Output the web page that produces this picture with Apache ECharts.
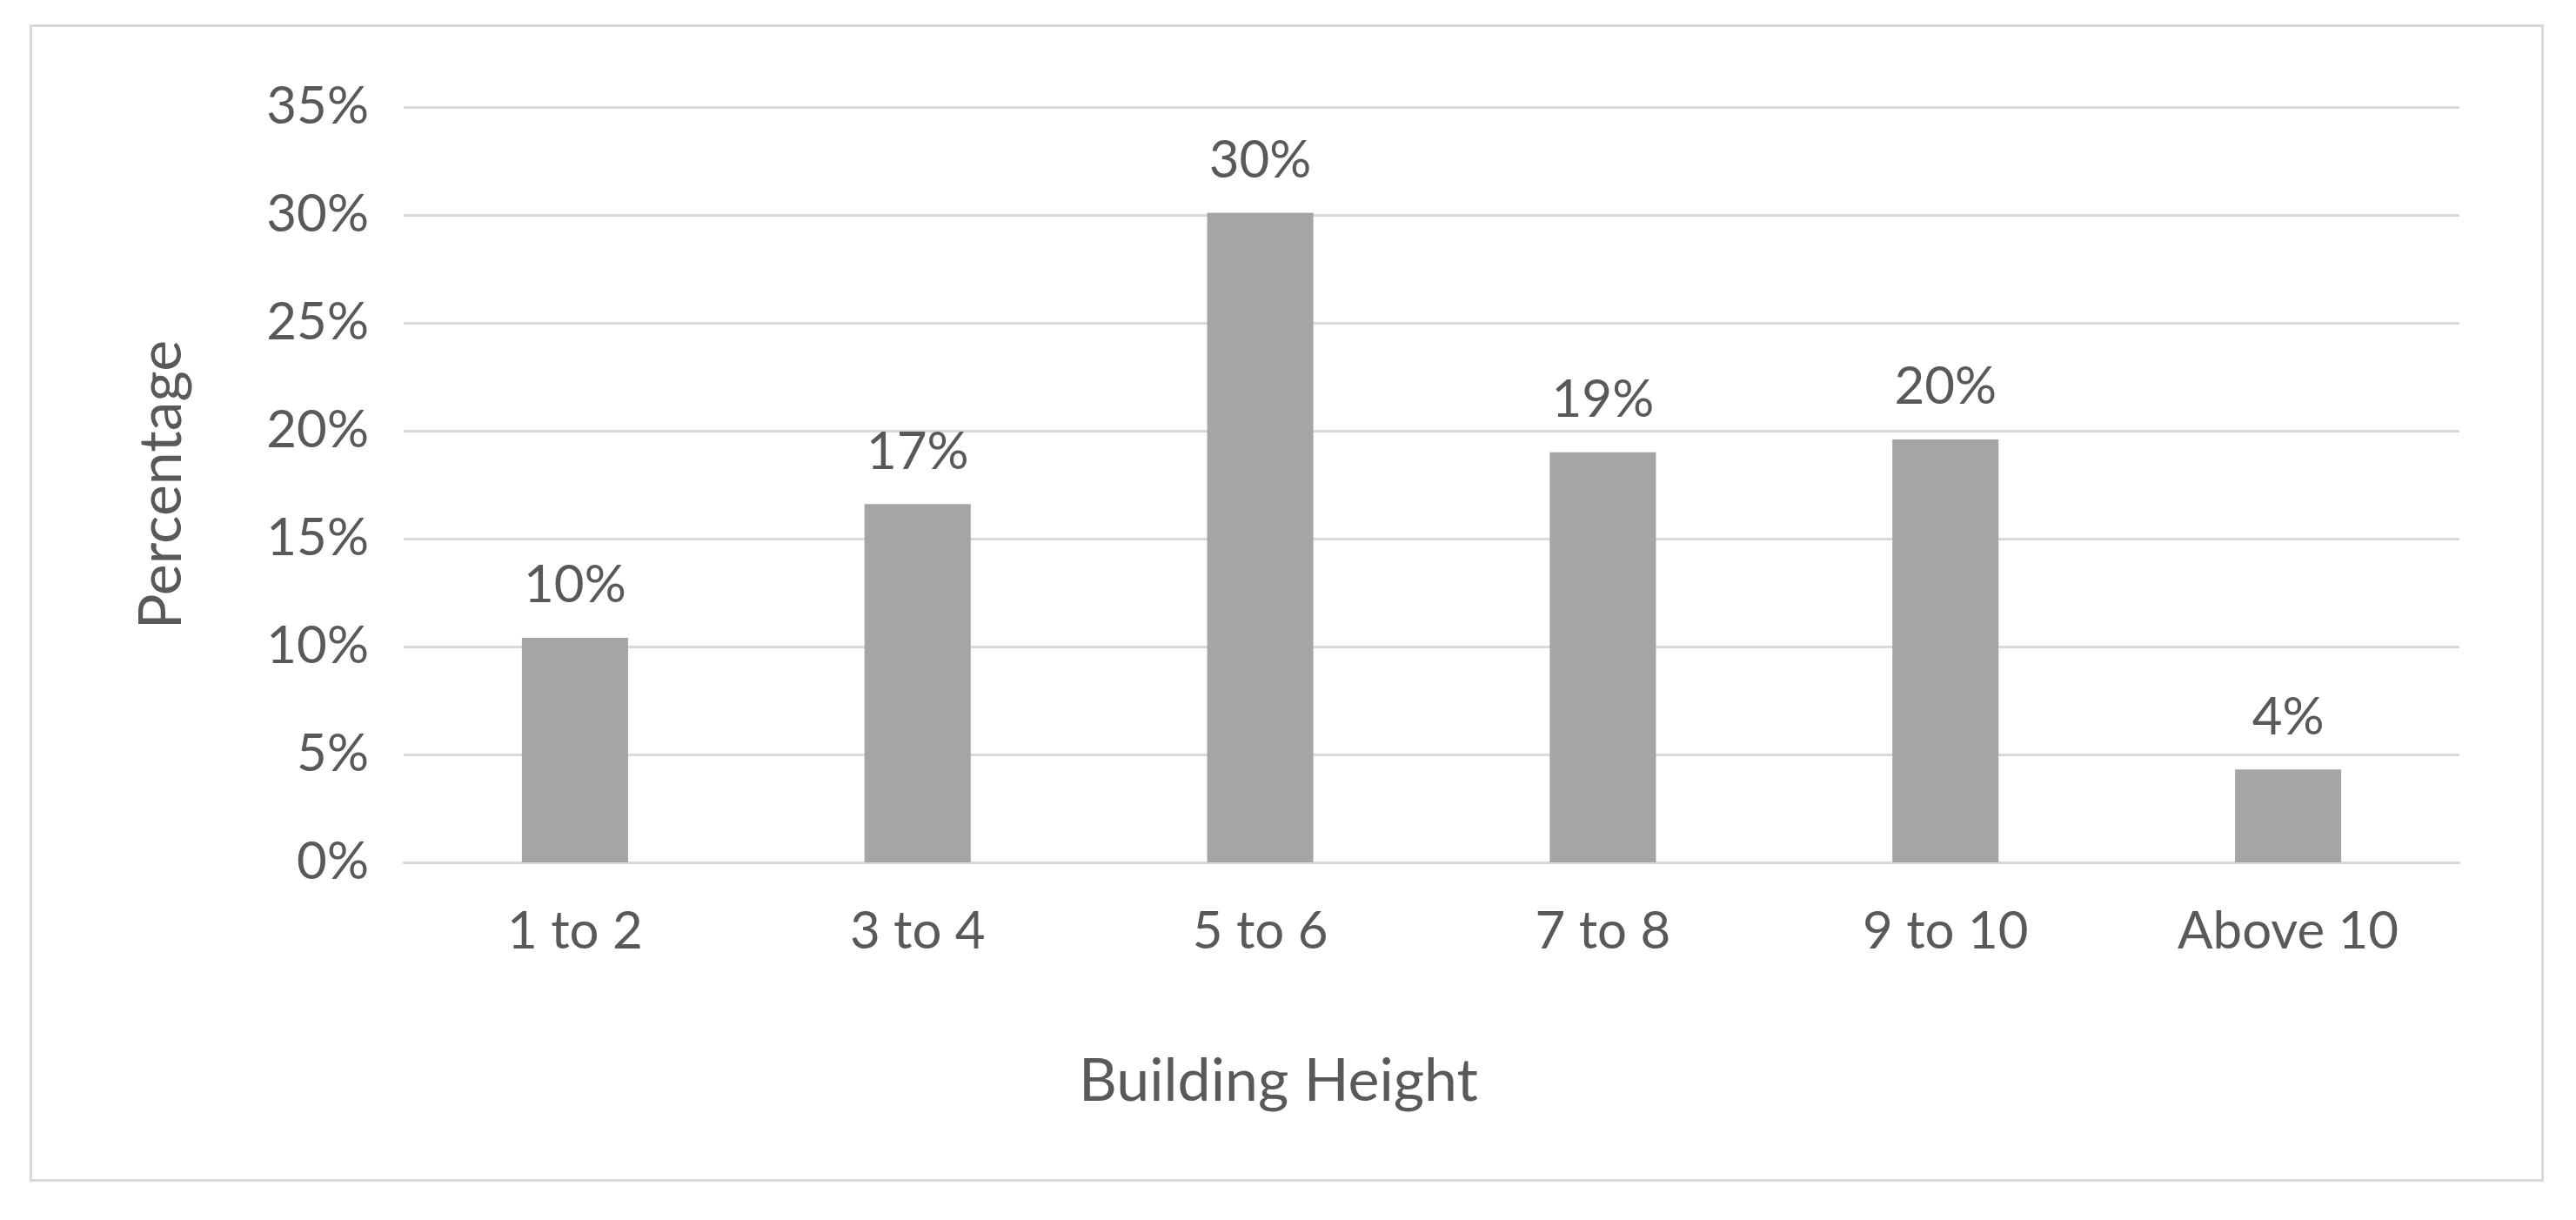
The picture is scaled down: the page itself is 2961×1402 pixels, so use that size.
<!DOCTYPE html>
<html>
<head>
<meta charset="utf-8">
<script src="https://cdn.jsdelivr.net/npm/echarts@6/dist/echarts.min.js"></script>
<style>
  html, body { margin: 0; padding: 0; background: #fff; }
  #frame { position: absolute; left: 34px; top: 28px; width: 2890px; height: 1330px; border: 3px solid #d9d9d9; box-sizing: border-box; }
  #chart { position: absolute; left: 0; top: 0; width: 2961px; height: 1402px; }
</style>
</head>
<body>
<div id="frame"></div>
<div id="chart"></div>
<script>
// data
const categories = ['1 to 2', '3 to 4', '5 to 6', '7 to 8', '9 to 10', 'Above 10'];
const values = [10.4, 16.6, 30.1, 19.0, 19.6, 4.3];
const labels = ['10%', '17%', '30%', '19%', '20%', '4%'];

const font = 'Lato, "Open Sans", sans-serif';
const grey = '#595959';

const chart = echarts.init(document.getElementById('chart'));
chart.setOption({
  animation: false,
  grid: { left: 464, right: 134, top: 123, bottom: 411 },
  xAxis: {
    type: 'category',
    data: categories,
    name: 'Building Height',
    nameLocation: 'middle',
    nameGap: 218,
    nameTextStyle: { color: grey, fontSize: 68, fontFamily: font, padding: [0, 352, 0, 0] },
    axisLine: { lineStyle: { color: '#d9d9d9', width: 3 } },
    axisTick: { show: false },
    axisLabel: { color: grey, fontSize: 60, fontFamily: font, margin: 50 }
  },
  yAxis: {
    type: 'value',
    min: 0, max: 35, interval: 5,
    name: 'Percentage',
    nameLocation: 'middle',
    nameGap: 244,
    nameTextStyle: { color: grey, fontSize: 68, fontFamily: font },
    axisLabel: { formatter: '{value}%', color: grey, fontSize: 60, fontFamily: font, margin: 40 },
    splitLine: { lineStyle: { color: '#d9d9d9', width: 3 } },
    axisLine: { show: false },
    axisTick: { show: false }
  },
  series: [{
    type: 'bar',
    data: values,
    barWidth: '31%',
    itemStyle: { color: '#a5a5a5' },
    label: {
      show: true,
      position: 'top',
      distance: 30,
      color: grey,
      fontSize: 60,
      fontFamily: font,
      formatter: p => labels[p.dataIndex]
    }
  }]
});
</script>
</body>
</html>
